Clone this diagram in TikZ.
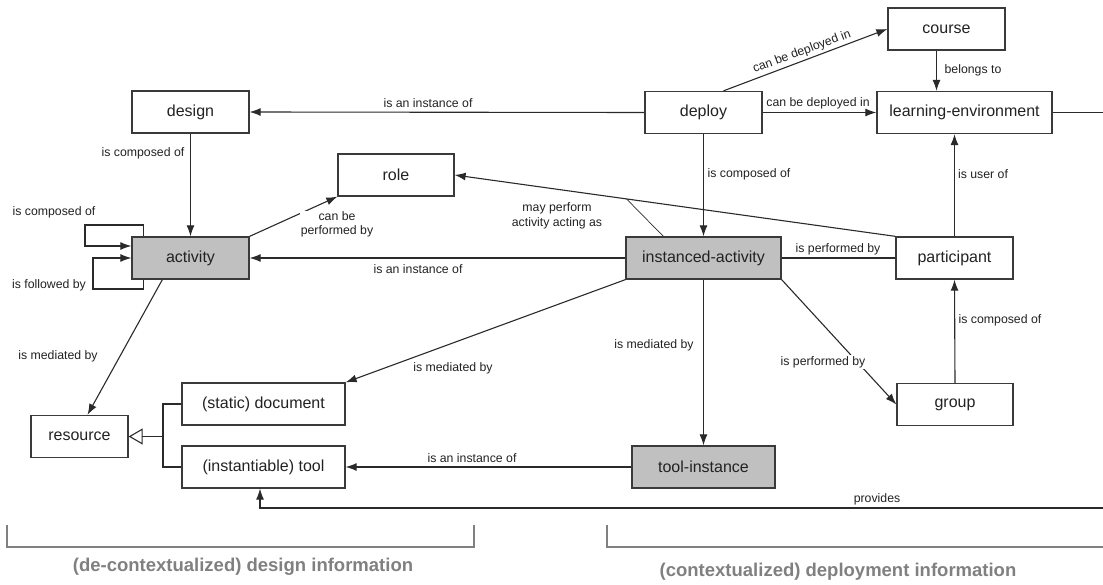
\documentclass[tikz,border=0pt]{standalone}
\usepackage{fontspec}
\setmainfont{Liberation Sans}
\usetikzlibrary{arrows.meta,calc}
\definecolor{boxline}{HTML}{3A3A3A}
\definecolor{boxgray}{HTML}{C0C0C0}
\definecolor{lin}{HTML}{2A2A2A}
\definecolor{txt}{HTML}{222222}
\definecolor{bracketgray}{HTML}{808080}
\begin{document}
\begin{tikzpicture}[x=1pt,y=-1pt,
  box/.style={draw=boxline, line width=1.3pt, minimum height=42pt, inner sep=0pt,
              font=\fontsize{16}{19}\selectfont, text=txt},
  shaded/.style={box, fill=boxgray},
  lbl/.style={font=\fontsize{12.3}{14.5}\selectfont, text=txt, inner sep=1pt, align=center},
  conn/.style={line width=1.1pt, draw=lin},
  arr/.style={conn, -{Latex[length=11pt,width=8pt]}},
  bracketline/.style={line width=2.6pt, draw=bracketgray},
  areatitle/.style={font=\fontsize{18.5}{22}\selectfont\bfseries, text=bracketgray}]

\path[use as bounding box] (0,0) rectangle (1103,585);
\clip (0,0) rectangle (1103,585);

% classes
\node[box, minimum width=117pt] (design) at (190.5,112) {design};
\node[box, minimum width=117pt] (deploy) at (703.5,112.5) {deploy};
\node[box, minimum width=117pt] (course) at (946.5,29) {course};
\node[box, minimum width=175pt] (le) at (964.5,112.5) {learning-environment};
\node[box, minimum width=116pt] (role) at (396,175) {role};
\node[shaded, minimum width=117pt] (act) at (190.5,258) {activity};
\node[shaded, minimum width=155pt] (ia) at (703.5,258) {instanced-activity};
\node[box, minimum width=117pt] (part) at (954.5,258) {participant};
\node[box, minimum width=97pt] (res) at (79.5,436.5) {resource};
\node[box, minimum width=163pt] (doc) at (263.5,404) {(static) document};
\node[box, minimum width=163pt] (tool) at (263.5,467) {(instantiable) tool};
\node[shaded, minimum width=143pt] (ti) at (703.5,467) {tool-instance};
\node[box, minimum width=116pt] (group) at (955,404.5) {group};

% associations
\draw[arr] (deploy.west) -- (design.east);
\draw[arr] (design.south) -- (act.north);
\draw[arr] ($(act.north west)+(12,0)$) |- (85,225) |- ($(act.west)+(0,-12)$);
\draw[arr] ($(act.south west)+(12,0)$) |- (93,289) |- (act.west);
\draw[arr] (act.north east) -- (role.south west);
\draw[arr] (ia.west) -- (act.east);
\draw[arr] (part.north west) -- (role.east);
\coordinate (mp) at ($(part.north west)!0.61!(role.east)$);
\draw[lin, line width=0.7pt] ($(ia.north west)+(38,0)$) -- (mp);
\draw[arr] ($(deploy.north)+(20,0)$) -- (course.west);
\draw[arr] (deploy.east) -- (le.west);
\coordinate (cs) at ($(course.south)+(-10,0)$);
\draw[arr] (cs) -- (cs |- le.north);
\draw[arr] (deploy.south) -- (ia.north);
\draw[arr] (part.north) -- (part.north |- le.south);
\draw[conn] (ia.east) -- (part.west);
\draw[arr] (group.north) -- (part.south);
\draw[arr] ($(act.south west)+(31,0)$) -- ($(res.north)+(8,0)$);
\draw[arr] (ia.south west) -- (doc.north east);
\draw[arr] (ia.south) -- (ti.north);
\draw[arr] (ia.south east) -- (group.west);
\draw[arr] (ti.west) -- (tool.east);

% generalization of resource
\coordinate (gen) at (163,436.5);
\draw[conn] (doc.west) -| (gen);
\draw[conn] (tool.west) -| (gen);
\draw[conn, -{Triangle[open, length=14pt, width=16pt]}] (gen) -- (res.east);

% learning environment provides tools (runs around the right border)
\coordinate (rt) at (1125,508);
\coordinate (bt) at (260,508);
\draw[arr] (le.east) -| (rt) -- (bt) -- (bt |- tool.south);

% association labels
\node[lbl] (l1) at (428,103) {is an instance of};
\node[lbl] (l2) at (143,153) {is composed of};
\node[lbl] (l3) at (54,212) {is composed of};
\node[lbl] (l4) at (49,285) {is followed by};
\node[lbl, fill=white] (l5) at (337,224.5) {can be\\performed by};
\node[lbl] (l6) at (418,269) {is an instance of};
\node[lbl] (l7) at (557,216) {may perform\\activity acting as};
\node[lbl, rotate=20.4] (l8) at (802,52) {can be deployed in};
\node[lbl] (l9) at (818,103) {can be deployed in};
\node[lbl] (l10) at (973,70) {belongs to};
\node[lbl] (l11) at (749,174) {is composed of};
\node[lbl] (l12) at (983,174) {is user of};
\node[lbl] (l13) at (838,249) {is performed by};
\node[lbl] (l14) at (58,356) {is mediated by};
\node[lbl] (l15) at (453,368) {is mediated by};
\node[lbl] (l16) at (472,458) {is an instance of};
\node[lbl] (l17) at (654,345) {is mediated by};
\node[lbl, fill=white] (l18) at (823,362) {is performed by};
\node[lbl] (l19) at (1000,320) {is composed of};
\node[lbl] (l20) at (877,499) {provides};

% information areas
\draw[bracketline] (7,525) -- (7,547) -- (474,547) -- (474,525);
\draw[bracketline] (607,525) -- (607,547) -- (1115,547);
\node[areatitle] (a1) at (243,567) {(de-contextualized) design information};
\node[areatitle] (a2) at (838,572) {(contextualized) deployment information};
\end{tikzpicture}
\end{document}
